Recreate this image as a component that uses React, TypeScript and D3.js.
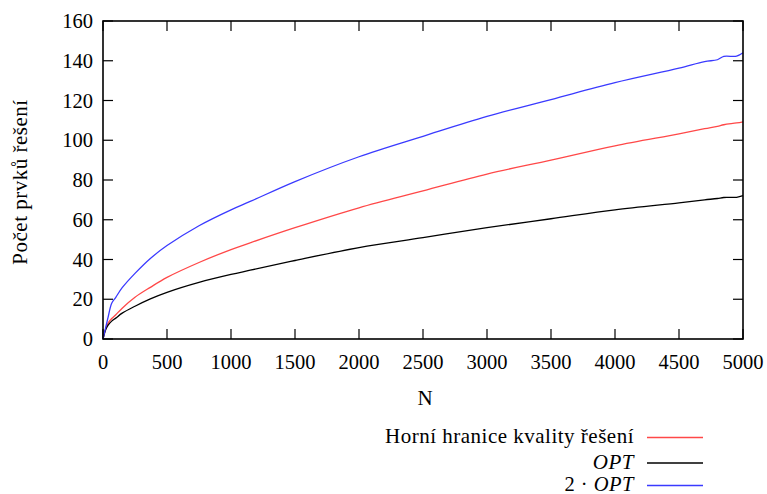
import React from "react";
import * as d3 from "d3";

const nValues = [0, 20, 40, 68, 100, 150, 250, 370, 500, 750, 1000, 1150, 1500, 2000, 2500, 3000, 3500, 4000, 4500, 4700, 4800, 4850, 4950, 5000];
const optValues = [0, 4.5, 7, 9, 10.5, 13, 16.5, 20.2, 23.5, 28.5, 32.5, 34.6, 39.5, 46, 51, 56, 60.5, 65, 68.5, 70, 70.7, 71.2, 71.3, 72.1];
const upperValues = [0, 5, 8, 10.3, 12.2, 15.5, 21, 26, 31, 38.5, 45, 48.4, 56, 66, 74.5, 83, 90, 97.2, 103.2, 105.8, 107, 107.8, 108.7, 109.3];
const doubleOptValues = [0, 5.5, 11, 18, 21, 25.8, 33, 40.5, 47, 57, 65, 69.2, 79.2, 91.7, 102, 112, 120.5, 129, 136.3, 139.6, 140.5, 142.2, 142.3, 144];

const xTicks = [0, 500, 1000, 1500, 2000, 2500, 3000, 3500, 4000, 4500, 5000];
const yTicks = [0, 20, 40, 60, 80, 100, 120, 140, 160];

const legendLabels = ["Horní hranice kvality řešení", "OPT", "2 · OPT"];
const seriesColors = ["#ff4848", "#000000", "#3a3aff"];

export default function App() {
  const W = 767, H = 494;
  const left = 103, right = 743, top = 21, bottom = 339;
  const x = d3.scaleLinear().domain([0, 5000]).range([left, right]);
  const y = d3.scaleLinear().domain([0, 160]).range([bottom, top]);
  const fontStyle = { fontFamily: "'Liberation Serif', 'DejaVu Serif', serif" };
  const wordStyle = { ...fontStyle, letterSpacing: "0.5px" };
  const series = [upperValues, optValues, doubleOptValues];
  const line = d3
    .line<[number, number]>()
    .x((d) => x(d[0]))
    .y((d) => y(d[1]))
    .curve(d3.curveCatmullRom.alpha(0.5));
  const tickLen = 10;
  const legendYs = [437.5, 463, 485.5];

  return (
    <svg width={W} height={H} style={{ position: "absolute", left: 0, top: 0 }}>
      <rect x={0} y={0} width={W} height={H} fill="#fff" />
      {xTicks.map((t) => (
        <g key={"x" + t}>
          <line x1={x(t)} x2={x(t)} y1={bottom} y2={bottom - tickLen} stroke="#000" strokeWidth={1.2} />
          <line x1={x(t)} x2={x(t)} y1={top} y2={top + tickLen} stroke="#000" strokeWidth={1.2} />
          <text x={x(t)} y={369} textAnchor="middle" fontSize={20.5} fill="#000" style={fontStyle}>{t}</text>
        </g>
      ))}
      {yTicks.map((t) => (
        <g key={"y" + t}>
          <line x1={left} x2={left + tickLen} y1={y(t)} y2={y(t)} stroke="#000" strokeWidth={1.2} />
          <line x1={right} x2={right - tickLen} y1={y(t)} y2={y(t)} stroke="#000" strokeWidth={1.2} />
          <text x={93} y={y(t)} dy="0.35em" textAnchor="end" fontSize={20.5} fill="#000" style={fontStyle}>{t}</text>
        </g>
      ))}
      {series.map((vals, i) => (
        <path
          key={"s" + i}
          d={line(nValues.map((n, j) => [n, vals[j]] as [number, number])) || ""}
          fill="none"
          stroke={seriesColors[i]}
          strokeWidth={1.3}
        />
      ))}
      <rect x={left} y={top} width={right - left} height={bottom - top} fill="none" stroke="#000" strokeWidth={1.6} />
      <text x={425} y={405} textAnchor="middle" fontSize={21} fill="#000" style={fontStyle}>N</text>
      <text transform={`translate(27,182) rotate(-90)`} textAnchor="middle" fontSize={21} fill="#000" style={wordStyle}>Počet prvků řešení</text>
      {legendLabels.map((lab, i) => (
        <g key={"l" + i}>
          <text x={634} y={legendYs[i] + 5.5} textAnchor="end" fontSize={i === 2 ? 20.5 : 21} fill="#000" style={wordStyle}>
            {i === 0 ? lab : i === 1 ? (
              <tspan fontStyle="italic">OPT</tspan>
            ) : (
              <>
                <tspan>2 · </tspan>
                <tspan fontStyle="italic">OPT</tspan>
              </>
            )}
          </text>
          <line x1={647} x2={703} y1={legendYs[i]} y2={legendYs[i]} stroke={seriesColors[i]} strokeWidth={1.3} />
        </g>
      ))}
    </svg>
  );
}
